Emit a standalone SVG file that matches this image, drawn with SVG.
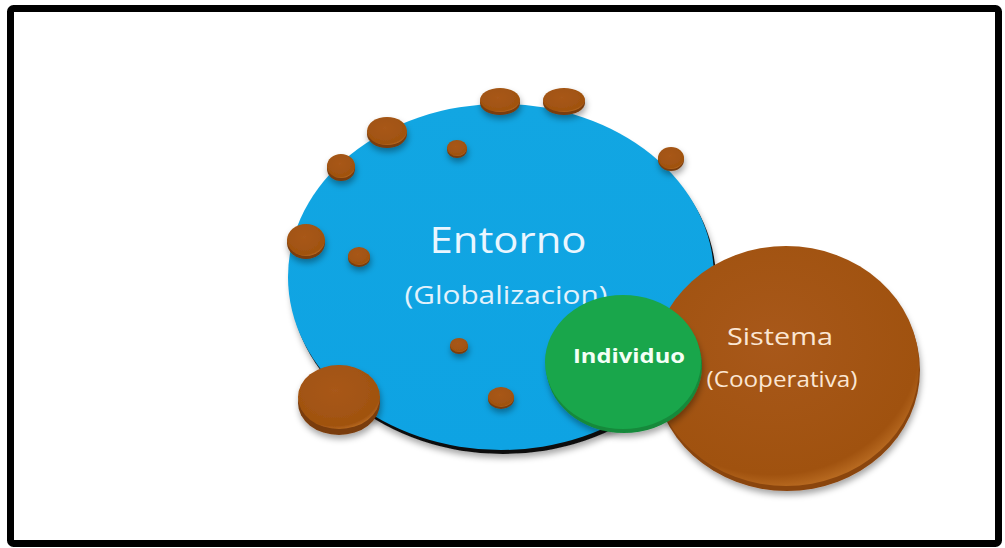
<svg xmlns="http://www.w3.org/2000/svg" width="1005" height="548" viewBox="0 0 1005 548">
<style>
.frame{fill:#fff;stroke:#000;stroke-width:7}
.brown{fill:url(#gBrown)}
.rim{fill:#7a3c0c}
.lbl{font-family:"Open Sans","Liberation Sans",sans-serif;text-anchor:middle}
</style>
<defs>
<radialGradient id="gBrown" cx="0.45" cy="0.4" r="0.65">
<stop offset="0" stop-color="#a8581a"/>
<stop offset="0.85" stop-color="#a0520f"/>
<stop offset="1" stop-color="#c87a2c"/>
</radialGradient>
<linearGradient id="gBlue" x1="0" y1="0" x2="0" y2="1">
<stop offset="0" stop-color="#12a6e2"/>
<stop offset="1" stop-color="#0ea3e3"/>
</linearGradient>
<filter id="sh" x="-30%" y="-30%" width="160%" height="170%">
<feDropShadow dx="1" dy="4" stdDeviation="3" flood-color="#000" flood-opacity="0.35"/>
</filter>
</defs>
<rect class="frame" x="10.5" y="8.5" width="988" height="535" rx="3"/>
<g id="entorno">
<ellipse cx="503" cy="281" rx="213" ry="173" fill="#111" filter="url(#sh)"/>
<ellipse cx="501" cy="277" rx="213" ry="173" fill="url(#gBlue)"/>
<text class="lbl" x="508" y="253" font-size="36" fill="#eaf6ff" textLength="157" lengthAdjust="spacingAndGlyphs">Entorno</text>
<text class="lbl" x="506" y="304" font-size="26" fill="#e2f2fc" textLength="203" lengthAdjust="spacingAndGlyphs">(Globalizacion)</text>
</g>
<g id="dots" filter="url(#sh)">
<ellipse class="rim" cx="500" cy="103" rx="20" ry="12"/><ellipse class="brown" cx="500" cy="100" rx="20" ry="12"/>
<ellipse class="rim" cx="564" cy="103" rx="21" ry="12"/><ellipse class="brown" cx="564" cy="100" rx="21" ry="12"/>
<ellipse class="rim" cx="387" cy="134" rx="20" ry="14"/><ellipse class="brown" cx="387" cy="131" rx="20" ry="14"/>
<ellipse class="rim" cx="341" cy="169" rx="14" ry="12"/><ellipse class="brown" cx="341" cy="166" rx="14" ry="12"/>
<ellipse class="rim" cx="457" cy="150" rx="10" ry="8"/><ellipse class="brown" cx="457" cy="148" rx="10" ry="8"/>
<ellipse class="rim" cx="671" cy="160" rx="13" ry="11"/><ellipse class="brown" cx="671" cy="158" rx="13" ry="11"/>
<ellipse class="rim" cx="306" cy="243" rx="19" ry="16"/><ellipse class="brown" cx="306" cy="240" rx="19" ry="16"/>
<ellipse class="rim" cx="359" cy="258" rx="11" ry="9"/><ellipse class="brown" cx="359" cy="256" rx="11" ry="9"/>
<ellipse class="rim" cx="459" cy="347" rx="9" ry="7"/><ellipse class="brown" cx="459" cy="345" rx="9" ry="7"/>
<ellipse class="rim" cx="501" cy="399" rx="13" ry="10"/><ellipse class="brown" cx="501" cy="397" rx="13" ry="10"/>
<ellipse class="rim" cx="339" cy="403" rx="41" ry="32"/><ellipse class="brown" cx="339" cy="397" rx="41" ry="32"/>
</g>
<g id="sistema">
<ellipse cx="787" cy="370" rx="133" ry="121" fill="#8a4510" filter="url(#sh)"/>
<ellipse class="brown" cx="786" cy="366" rx="133" ry="120"/>
<text class="lbl" x="780" y="345" font-size="24" fill="#fbe6d2" textLength="106" lengthAdjust="spacingAndGlyphs">Sistema</text>
<text class="lbl" x="782" y="387" font-size="21" fill="#fbe6d2" textLength="151" lengthAdjust="spacingAndGlyphs">(Cooperativa)</text>
</g>
<g id="individuo">
<ellipse cx="624" cy="366" rx="78" ry="67" fill="#14893a" filter="url(#sh)"/>
<ellipse cx="623" cy="362" rx="78" ry="67" fill="#19a64b"/>
<text class="lbl" x="629" y="363" font-size="19" font-weight="bold" fill="#f4fff6" textLength="112" lengthAdjust="spacingAndGlyphs">Individuo</text>
</g>
<g id="connectors"/>
</svg>
